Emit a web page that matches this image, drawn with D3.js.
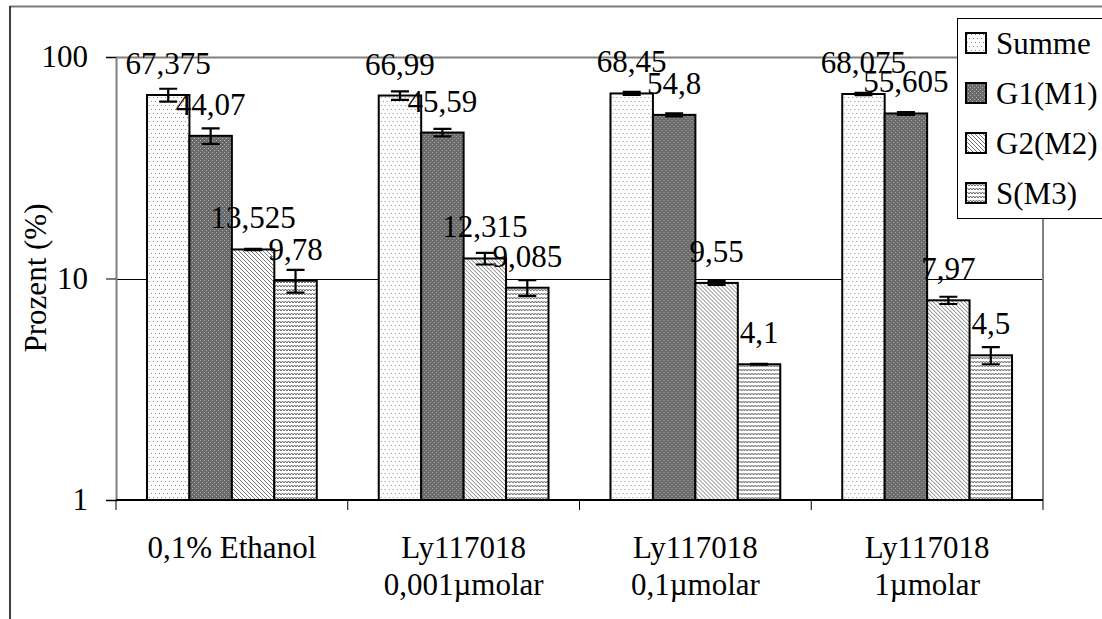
<!DOCTYPE html>
<html>
<head>
<meta charset="utf-8">
<script src="https://cdn.jsdelivr.net/npm/d3@7"></script>
<style>
  html, body { margin: 0; padding: 0; background: #fff; }
  svg { display: block; }
</style>
</head>
<body>
<svg id="chart" width="1102" height="619"></svg>
<script>
// Treatment groups (x categories), one line per array entry
const categories = [
  ["0,1% Ethanol"],
  ["Ly117018", "0,001µmolar"],
  ["Ly117018", "0,1µmolar"],
  ["Ly117018", "1µmolar"]
];
const seriesNames = ["Summe", "G1(M1)", "G2(M2)", "S(M3)"];

// Mean percentages per series
const summe = [67.375, 66.99, 68.45, 68.075];
const g1    = [44.07, 45.59, 54.8, 55.605];
const g2    = [13.525, 12.315, 9.55, 7.97];
const s     = [9.78, 9.085, 4.1, 4.5];

// Error (±) per series
const summeErr = [4.5, 2.9, 1.1, 0.8];
const g1Err    = [3.5, 1.8, 0.9, 0.8];
const g2Err    = [0.1, 0.75, 0.2, 0.3];
const sErr     = [1.15, 0.74, 0.02, 0.4];

const yTicks = [1, 10, 100];
const yLabel = "Prozent (%)";

const seriesValues = [summe, g1, g2, s];
const seriesErrors = [summeErr, g1Err, g2Err, sErr];
const patternIds = ["pat-summe", "pat-g1", "pat-g2", "pat-s"];

const FONT = 31;
const svg = d3.select("#chart");

// Pick the first installed serif face by comparing its measured width against a monospace fallback
function pickSerif() {
  const candidates = ["Liberation Serif", "Tinos", "Times New Roman", "Nimbus Roman", "DejaVu Serif", "Noto Serif"];
  const probe = svg.append("text").attr("x", -1000).attr("y", -1000).style("font-size", "40px")
    .text("Prozent 0,1% Ethanol Summe");
  probe.style("font-family", "monospace");
  const base = probe.node().getComputedTextLength();
  let found = null;
  for (const c of candidates) {
    probe.style("font-family", `'${c}', monospace`);
    if (Math.abs(probe.node().getComputedTextLength() - base) > 0.5) { found = c; break; }
  }
  probe.remove();
  return found ? `'${found}', serif` : "serif";
}
const SERIF = pickSerif();

// ---------- fill patterns ----------
const defs = svg.append("defs");

// sparse grey dots on white
const p0 = defs.append("pattern").attr("id", "pat-summe")
  .attr("patternUnits", "userSpaceOnUse").attr("width", 8).attr("height", 8);
p0.append("rect").attr("width", 8).attr("height", 8).attr("fill", "#fff");
[[1,1],[5,1],[3,5],[7,5]].forEach(([x,y]) =>
  p0.append("rect").attr("x", x).attr("y", y).attr("width", 1).attr("height", 1).attr("fill", "#8a8a8a"));

// dark grey with fine light dots
const p1 = defs.append("pattern").attr("id", "pat-g1")
  .attr("patternUnits", "userSpaceOnUse").attr("width", 4).attr("height", 4);
p1.append("rect").attr("width", 4).attr("height", 4).attr("fill", "#6a6a6a");
[[0,0],[2,2]].forEach(([x,y]) =>
  p1.append("rect").attr("x", x).attr("y", y).attr("width", 1).attr("height", 1).attr("fill", "#b0b0b0"));

// dense downward diagonal lines
const p2 = defs.append("pattern").attr("id", "pat-g2")
  .attr("patternUnits", "userSpaceOnUse").attr("width", 4).attr("height", 4);
p2.append("rect").attr("width", 4).attr("height", 4).attr("fill", "#fff");
p2.append("path").attr("d", "M-1,-1 L5,5 M-1,3 L1,5 M3,-1 L5,1")
  .attr("stroke", "#777").attr("stroke-width", 1);

// small zigzag waves
const p3 = defs.append("pattern").attr("id", "pat-s")
  .attr("patternUnits", "userSpaceOnUse").attr("width", 6).attr("height", 4);
p3.append("rect").attr("width", 6).attr("height", 4).attr("fill", "#fff");
p3.append("path").attr("d", "M0,3 L1.5,1 L3,3 L4.5,1 L6,3")
  .attr("fill", "none").attr("stroke", "#666").attr("stroke-width", 1);

// ---------- outer frame ----------
svg.append("line").attr("x1", 10).attr("x2", 1102).attr("y1", 6.5).attr("y2", 6.5)
  .attr("stroke", "#7a7a7a").attr("stroke-width", 2);
svg.append("line").attr("x1", 10).attr("x2", 10).attr("y1", 6).attr("y2", 619)
  .attr("stroke", "#000").attr("stroke-width", 1.5);

// ---------- scales ----------
const plot = { left: 116, right: 1043, top: 57, bottom: 500 };

const x0 = d3.scaleBand()
  .domain(d3.range(categories.length))
  .range([plot.left, plot.right])
  .padding(0);

const x1 = d3.scaleBand()
  .domain(d3.range(seriesNames.length))
  .range([0, x0.bandwidth()])
  .paddingInner(0)
  .paddingOuter(0.73);

const y = d3.scaleLog().domain([1, 100]).range([plot.bottom, plot.top]);

// ---------- gridlines & plot frame ----------
svg.append("g").selectAll("line").data(yTicks.filter(t => t > 1 && t < 100)).join("line")
  .attr("x1", plot.left).attr("x2", plot.right)
  .attr("y1", d => Math.round(y(d)) + 0.5).attr("y2", d => Math.round(y(d)) + 0.5)
  .attr("stroke", "#000").attr("stroke-width", 1);

svg.append("path")
  .attr("d", `M${plot.left},${plot.top + 0.5} H${plot.right} V${plot.bottom}`)
  .attr("fill", "none").attr("stroke", "#808080").attr("stroke-width", 2);

// ---------- bars ----------
const groups = svg.append("g").selectAll("g").data(categories).join("g")
  .attr("transform", (d, i) => `translate(${x0(i)},0)`);

groups.selectAll("rect").data((d, i) => seriesValues.map((vals, k) => ({ k, v: vals[i] })))
  .join("rect")
  .attr("x", d => x1(d.k))
  .attr("width", x1.bandwidth())
  .attr("y", d => y(d.v))
  .attr("height", d => y(1) - y(d.v))
  .attr("fill", d => `url(#${patternIds[d.k]})`)
  .attr("stroke", "#000").attr("stroke-width", 2);

// ---------- error bars ----------
const capHalf = 9;
groups.selectAll("path.err").data((d, i) => seriesValues.map((vals, k) => ({ k, v: vals[i], e: seriesErrors[k][i] })))
  .join("path").attr("class", "err")
  .attr("d", d => {
    const cx = x1(d.k) + x1.bandwidth() / 2;
    const yt = y(d.v + d.e), yb = y(d.v - d.e);
    return `M${cx},${yt} V${yb} M${cx - capHalf},${yt} H${cx + capHalf} M${cx - capHalf},${yb} H${cx + capHalf}`;
  })
  .attr("fill", "none").attr("stroke", "#000").attr("stroke-width", 2.2);

// ---------- axes ----------
const yAxis = d3.axisLeft(y).tickValues(yTicks).tickFormat(d3.format("d"))
  .tickSize(10).tickPadding(18);
const gy = svg.append("g").attr("transform", `translate(${plot.left},0)`).call(yAxis)
  .attr("font-family", null).attr("font-size", null);
gy.select(".domain").attr("stroke", "#808080").attr("stroke-width", 2);
gy.selectAll(".tick line").attr("stroke", "#000").attr("stroke-width", 1);
gy.selectAll(".tick text")
  .style("font-family", SERIF).style("font-size", FONT + "px")
  .attr("fill", "#000").attr("dy", "0.32em");

// bottom axis with ticks at category boundaries
svg.append("line").attr("x1", plot.left).attr("x2", plot.right)
  .attr("y1", plot.bottom).attr("y2", plot.bottom)
  .attr("stroke", "#000").attr("stroke-width", 2);
const boundaries = d3.range(categories.length + 1).map(i => i < categories.length ? x0(i) : x0(i - 1) + x0.bandwidth());
svg.append("g").selectAll("line").data(boundaries).join("line")
  .attr("x1", d => d).attr("x2", d => d)
  .attr("y1", plot.bottom).attr("y2", plot.bottom + 10)
  .attr("stroke", "#000").attr("stroke-width", 1);

// category labels
const catText = svg.append("g").selectAll("text").data(categories).join("text")
  .attr("x", (d, i) => x0(i) + x0.bandwidth() / 2)
  .attr("y", 558)
  .attr("text-anchor", "middle")
  .style("font-family", SERIF).style("font-size", FONT + "px");
catText.selectAll("tspan").data(d => d).join("tspan")
  .attr("x", function () { return this.parentNode.getAttribute("x"); })
  .attr("dy", (d, j) => j === 0 ? 0 : 37)
  .text(d => d);

// y-axis title
svg.append("text")
  .attr("transform", `translate(46,278) rotate(-90)`)
  .attr("text-anchor", "middle")
  .style("font-family", SERIF).style("font-size", FONT + "px")
  .text(yLabel);

// ---------- value labels ----------
const fmt = v => String(v).replace(".", ",");
groups.selectAll("text.val").data((d, i) => seriesValues.map((vals, k) => ({ k, v: vals[i] })))
  .join("text").attr("class", "val")
  .attr("x", d => x1(d.k) + x1.bandwidth() / 2)
  .attr("y", d => y(d.v) - 21)
  .attr("text-anchor", "middle")
  .style("font-family", SERIF).style("font-size", FONT + "px")
  .text(d => fmt(d.v));

// ---------- legend ----------
const legend = svg.append("g");
legend.append("rect").attr("x", 957.5).attr("y", 18.5).attr("width", 160).attr("height", 200)
  .attr("fill", "#fff").attr("stroke", "#000").attr("stroke-width", 1);
const items = legend.selectAll("g").data(seriesNames).join("g")
  .attr("transform", (d, k) => `translate(966,${33 + k * 50})`);
items.append("rect").attr("width", 20).attr("height", 20)
  .attr("fill", (d, k) => `url(#${patternIds[k]})`)
  .attr("stroke", "#000").attr("stroke-width", 2);
items.append("text").attr("x", 30).attr("y", 21)
  .style("font-family", SERIF).style("font-size", FONT + "px")
  .text(d => d);
</script>
</body>
</html>
